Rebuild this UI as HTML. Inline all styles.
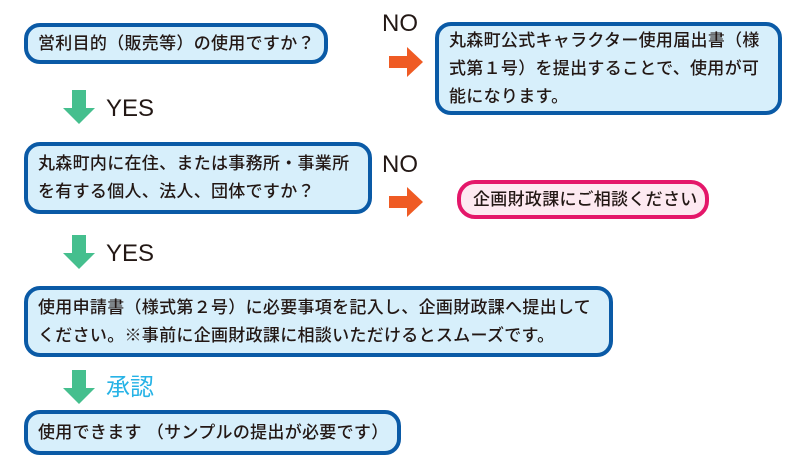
<!DOCTYPE html>
<html><head><meta charset="utf-8"><style>
body{margin:0;width:787px;height:461px;background:#fff;position:relative;overflow:hidden;font-family:"Liberation Sans","Noto Sans CJK JP",sans-serif;color:#231815}
.b{position:absolute;box-sizing:border-box;background:#d7effb;border:4px solid #0a5aa6;border-radius:16px;font-size:17px;font-weight:500;line-height:23px;padding:0 0 0 10px;display:flex;flex-direction:column;justify-content:center;white-space:nowrap;letter-spacing:0.3px}
.t{position:absolute;font-size:24px;line-height:24px}
</style></head><body>
<div class="b" style="left:24px;top:23px;width:304px;height:41px">営利目的（販売等）の使用ですか？</div>
<div class="b" style="left:435px;top:22px;width:347px;height:93px;line-height:28px">丸森町公式キャラクター使用届出書（様<br>式第１号）を提出することで、使用が可<br>能になります。</div>
<div class="b" style="left:24px;top:142px;width:348px;height:72px;line-height:28px">丸森町内に在住、または事務所・事業所<br>を有する個人、法人、団体ですか？</div>
<div class="b" style="left:457px;top:180px;width:252px;height:39px;background:#fde9f1;border-color:#e4176a;border-radius:18px;padding-left:12px">企画財政課にご相談ください</div>
<div class="b" style="left:24px;top:286px;width:589px;height:71px;line-height:28px">使用申請書（様式第２号）に必要事項を記入し、企画財政課へ提出して<br>ください。※事前に企画財政課に相談いただけるとスムーズです。</div>
<div class="b" style="left:24px;top:410px;width:377px;height:45px">使用できます （サンプルの提出が必要です）</div>
<svg width="787" height="461" style="position:absolute;left:0;top:0">
<g fill="#45bf8e">
<polygon points="72,90 86,90 86,108 95,108 79,124 63,108 72,108"/>
<polygon points="72,235 86,235 86,253 95,253 79,269 63,253 72,253"/>
<polygon points="72,370 86,370 86,388 95,388 79,404 63,388 72,388"/>
</g>
<g fill="#ef5b24">
<polygon points="389,56 407,56 407,47 423,62 407,77 407,68 389,68"/>
<polygon points="389,196 407,196 407,187 423,202 407,217 407,208 389,208"/>
</g>
</svg>
<div class="t" style="left:106px;top:97px">YES</div>
<div class="t" style="left:106px;top:242px">YES</div>
<div class="t" style="left:106px;top:376px;color:#27b3e6">承認</div>
<div class="t" style="left:382px;top:12px">NO</div>
<div class="t" style="left:382px;top:153px">NO</div>
</body></html>
